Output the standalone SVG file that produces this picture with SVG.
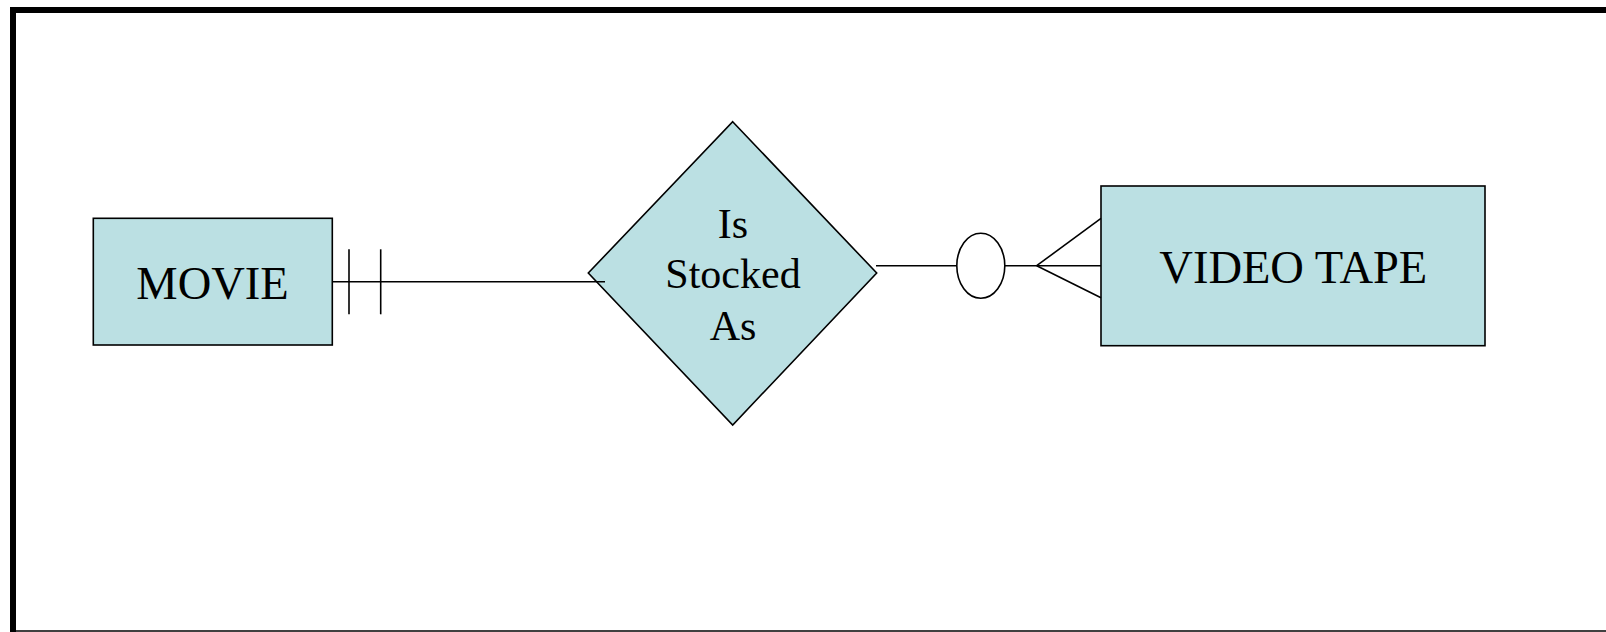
<svg xmlns="http://www.w3.org/2000/svg" width="1606" height="632" viewBox="0 0 1606 632">
<style>
.ent{fill:#BBE0E3;stroke:#000;stroke-width:1.6}
.lbl{font-family:"Liberation Serif","Times New Roman",serif;fill:#000;text-anchor:middle}
.ln{stroke:#000;stroke-width:1.6;fill:none}
</style>
<rect x="0" y="0" width="1606" height="632" fill="#fff"/>
<g id="frame">
<path d="M13 632 V10 H1606" fill="none" stroke="#000" stroke-width="6"/>
<line x1="10" y1="631" x2="1606" y2="631" stroke="#000" stroke-width="1.5"/>
</g>
<g id="movie">
<rect class="ent" x="93.3" y="218.3" width="239" height="126.7"/>
<text class="lbl" x="212.5" y="299.3" font-size="46.5">MOVIE</text>
</g>
<g id="is-stocked-as">
<polygon class="ent" points="732.7,121.7 876.7,273 732.7,425 588.3,273"/>
<text class="lbl" font-size="42"><tspan x="733" y="238.3">Is</tspan><tspan x="733" y="288.3">Stocked</tspan><tspan x="733" y="340">As</tspan></text>
</g>
<g id="video-tape">
<rect class="ent" x="1101" y="186" width="384" height="159.7"/>
<text class="lbl" x="1293.3" y="283.3" font-size="46.5">VIDEO TAPE</text>
</g>
<g id="connectors">
<line class="ln" x1="333" y1="281.7" x2="605" y2="281.7"/>
<line class="ln" x1="349" y1="249.3" x2="349" y2="314.3"/>
<line class="ln" x1="380.7" y1="249.3" x2="380.7" y2="314.3"/>
<line class="ln" x1="876" y1="265.7" x2="956.7" y2="265.7"/>
<ellipse class="ln" cx="980.8" cy="265.8" rx="24" ry="32.5"/>
<line class="ln" x1="1005" y1="265.7" x2="1101" y2="265.7"/>
<line class="ln" x1="1036.7" y1="265.7" x2="1101" y2="218.3"/>
<line class="ln" x1="1036.7" y1="265.7" x2="1101" y2="297.7"/>
</g>
</svg>
